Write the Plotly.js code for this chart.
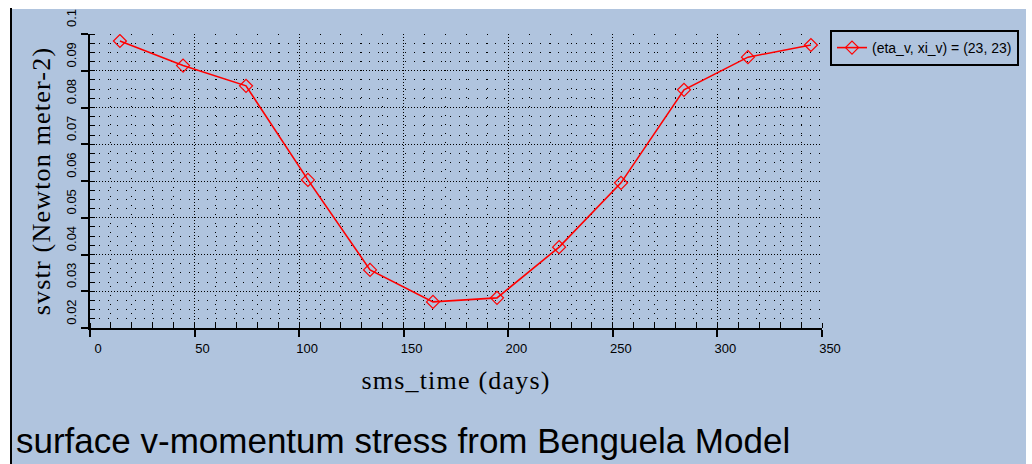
<!DOCTYPE html>
<html>
<head>
<meta charset="utf-8">
<script src="https://cdn.plot.ly/plotly-3.0.1.min.js"></script>
<style>
  html, body { margin: 0; padding: 0; background: #ffffff; width: 1032px; height: 464px; overflow: hidden; }
  #edge { position: absolute; left: 10px; top: 8px; width: 2px; height: 456px; background: #000000; }
  #chart { position: absolute; left: 12px; top: 9px; width: 1014px; height: 455px; }
  #chart .xtitle, #chart .ytitle { letter-spacing: 1.2px; }
</style>
</head>
<body>
<div id="edge"></div>
<div id="chart"></div>
<script>
// Monthly climatology of surface v-momentum stress at grid point (23, 23)
const days  = [14.3, 44.5, 74.6, 104.2, 133.9, 164.0, 194.6, 224.3, 253.9, 284.0, 314.6, 344.7];
const svstr = [0.0981, 0.0914, 0.0859, 0.0603, 0.0358, 0.0271, 0.0282, 0.0420, 0.0595, 0.0848, 0.0937, 0.0970];

const seriesName = '(eta_v, xi_v) = (23, 23)';
const xTickVals = [0, 50, 100, 150, 200, 250, 300, 350];
const xTickText = ['0', '50', '100', '150', '200', '250', '300', '350'];
const yTickVals = [0.02, 0.03, 0.04, 0.05, 0.06, 0.07, 0.08, 0.09, 0.1];
const yTickText = ['0.02', '0.03', '0.04', '0.05', '0.06', '0.07', '0.08', '0.09', '0.1'];

const titleText = 'surface v-momentum stress from Benguela Model';
const xTitle = 'sms_time (days)';
const yTitle = 'svstr (Newton meter-2)';

const BG = '#b0c4de';
const tickFont = { family: 'Liberation Sans, Arial, sans-serif', size: 13, color: '#000000' };
const axisTitleFont = { family: 'Liberation Serif, Times New Roman, serif', size: 26, color: '#000000' };

const W = 1014, H = 455;
const M = { l: 78, r: 204, t: 25, b: 136, pad: 0 };

const trace = {
  x: days,
  y: svstr,
  type: 'scatter',
  mode: 'lines+markers',
  name: seriesName,
  line: { color: '#ff0000', width: 1.6 },
  marker: { symbol: 'diamond-open', size: 10, color: '#ff0000', line: { color: '#ff0000', width: 1.2 } }
};

const layout = {
  width: W,
  height: H,
  autosize: false,
  margin: M,
  paper_bgcolor: BG,
  plot_bgcolor: BG,
  showlegend: true,
  legend: {
    xref: 'container', yref: 'container',
    x: 818 / W, xanchor: 'left',
    y: (H - 21) / H, yanchor: 'top',
    bgcolor: BG, bordercolor: '#000000', borderwidth: 2,
    font: { family: 'Liberation Sans, Arial, sans-serif', size: 14, color: '#000000' }
  },
  xaxis: {
    automargin: false,
    range: [0, 350],
    tickmode: 'array', tickvals: xTickVals, ticktext: xTickText,
    ticks: 'outside', ticklen: 7, tickwidth: 2, tickcolor: '#000000',
    ticklabelshift: 8,
    tickfont: tickFont,
    showline: true, linecolor: '#000000', linewidth: 2, mirror: false,
    showgrid: true, gridcolor: '#000000', gridwidth: 1, griddash: '1px,2px',
    zeroline: false,
    minor: { dtick: 10, ticks: 'inside', ticklen: 5, tickwidth: 1, tickcolor: '#000000',
             showgrid: true, gridcolor: '#000000', gridwidth: 1, griddash: '1px,8px' },
    title: { text: xTitle, font: axisTitleFont, standoff: 16 }
  },
  yaxis: {
    automargin: false,
    range: [0.02, 0.1],
    tickmode: 'array', tickvals: yTickVals, ticktext: yTickText,
    tickangle: -90,
    ticks: 'outside', ticklen: 7, tickwidth: 2, tickcolor: '#000000',
    ticklabelshift: -14,
    tickfont: tickFont,
    showline: true, linecolor: '#000000', linewidth: 2, mirror: false,
    showgrid: true, gridcolor: '#000000', gridwidth: 1, griddash: '1px,2px',
    zeroline: false,
    minor: { dtick: 0.0025, ticks: 'inside', ticklen: 5, tickwidth: 1, tickcolor: '#000000',
             showgrid: true, gridcolor: '#000000', gridwidth: 1, griddash: '1px,8px' },
    title: { text: yTitle, font: axisTitleFont, standoff: 6 }
  },
  annotations: [{
    text: titleText,
    xref: 'paper', yref: 'paper',
    x: -76 / 732, xanchor: 'left',
    y: (294 - 431 + 25) / 294, yanchor: 'middle',
    showarrow: false,
    font: { family: 'Liberation Sans, Arial, sans-serif', size: 35, color: '#000000' }
  }]
};

Plotly.newPlot('chart', [trace], layout, { displayModeBar: false, staticPlot: true });
</script>
</body>
</html>
